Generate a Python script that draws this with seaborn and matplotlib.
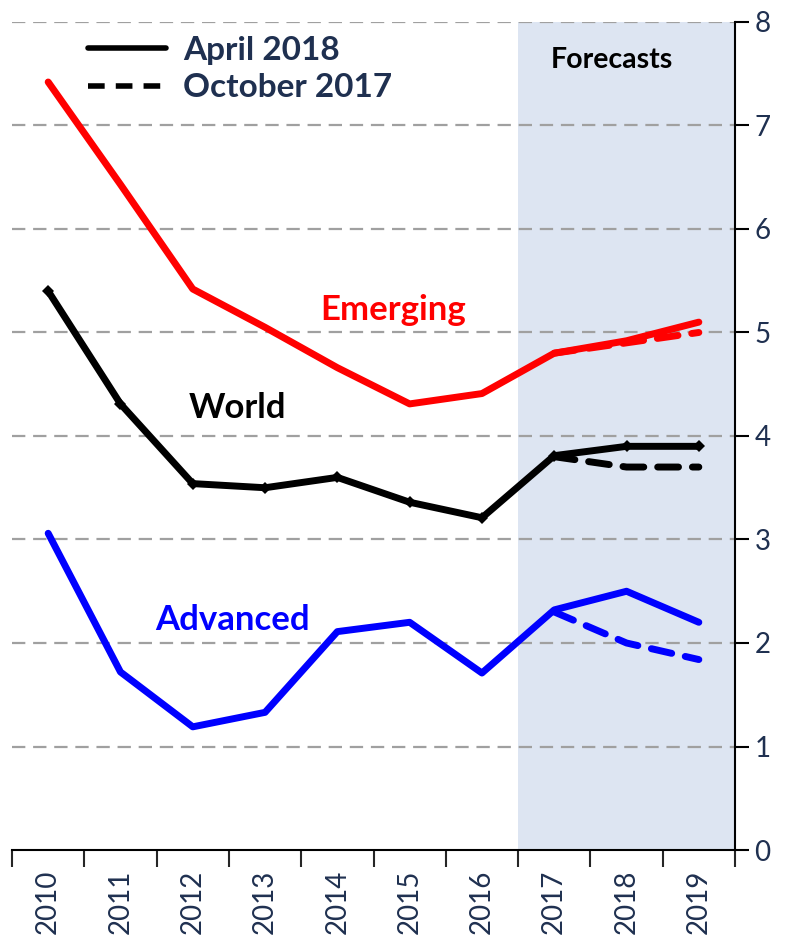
"""Growth forecasts: April 2018 vs October 2017 vintages."""

import matplotlib.pyplot as plt
import pandas as pd
import seaborn as sns
from matplotlib.lines import Line2D
from matplotlib.ticker import FixedLocator, NullFormatter

# Data.
years = [2010, 2011, 2012, 2013, 2014, 2015, 2016, 2017, 2018, 2019]
emerging_apr = [7.42, 6.43, 5.42, 5.05, 4.66, 4.31, 4.41, 4.80, 4.92, 5.10]
world_apr = [5.40, 4.31, 3.54, 3.50, 3.60, 3.36, 3.21, 3.81, 3.90, 3.90]
advanced_apr = [3.06, 1.72, 1.19, 1.33, 2.11, 2.20, 1.71, 2.32, 2.50, 2.20]

oct_years = [2017, 2018, 2019]
emerging_oct = [4.80, 4.90, 5.00]
world_oct = [3.80, 3.70, 3.70]
advanced_oct = [2.30, 2.00, 1.84]

y_ticks = [0, 1, 2, 3, 4, 5, 6, 7, 8]

NAVY = "#1F3050"
COLORS = {"Emerging": "#FF0000", "World": "#000000", "Advanced": "#0000FF"}

apr = pd.DataFrame({
    "year": years * 3,
    "value": emerging_apr + world_apr + advanced_apr,
    "group": ["Emerging"] * 10 + ["World"] * 10 + ["Advanced"] * 10,
})
octo = pd.DataFrame({
    "year": oct_years * 3,
    "value": emerging_oct + world_oct + advanced_oct,
    "group": ["Emerging"] * 3 + ["World"] * 3 + ["Advanced"] * 3,
})

sns.set_style("white")
plt.rcParams["font.family"] = ["Lato", "DejaVu Sans"]

fig = plt.figure(figsize=(7.86, 9.35), dpi=100)
ax = fig.add_axes([0.0153, 0.0909, 0.9198, 0.8856])

# Forecast shading.
ax.axvspan(2016.5, 2019.5, ymin=0, ymax=1, color="#DDE5F2", zorder=0, lw=0)

# Gridlines.
for v in y_ticks[1:]:
    ax.axhline(v, color="#A0A0A0", lw=1.6, ls=(0, (6, 3.5)), zorder=1)

# October 2017 (dashed).
for name, sub in octo.groupby("group"):
    sns.lineplot(data=sub, x="year", y="value", ax=ax, color=COLORS[name],
                 lw=5, linestyle=(0, (3, 2)), zorder=3, legend=False,
                 dash_capstyle="round")

# April 2018 (solid).
for name, sub in apr.groupby("group"):
    sns.lineplot(data=sub, x="year", y="value", ax=ax, color=COLORS[name],
                 lw=5, zorder=4, legend=False, solid_capstyle="round",
                 marker="D" if name == "World" else None, markersize=6,
                 markeredgewidth=0)

ax.set_xlim(2009.5, 2019.5)
ax.set_ylim(0, 8)

# Axis styling: y axis on the right, ticks between categories.
ax.yaxis.tick_right()
ax.set_yticks(y_ticks)
ax.tick_params(axis="y", direction="out", length=10, width=1.5, colors="black",
               labelcolor=NAVY, labelsize=20, pad=4, right=True, left=False)
ax.xaxis.set_major_locator(FixedLocator([y + 0.5 for y in [2009] + years]))
ax.xaxis.set_major_formatter(NullFormatter())
ax.xaxis.set_minor_locator(FixedLocator(years))
ax.set_xticklabels([str(y) for y in years], minor=True, rotation=90)
ax.tick_params(axis="x", which="major", direction="out", length=12, width=1.5,
               bottom=True)
ax.tick_params(axis="x", which="minor", length=0, labelcolor=NAVY,
               labelsize=20, pad=14)
for s in ["top", "left"]:
    ax.spines[s].set_visible(False)
for s in ["bottom", "right"]:
    ax.spines[s].set_color("black")
    ax.spines[s].set_linewidth(1.5)
ax.set_xlabel("")
ax.set_ylabel("")

# Series labels.
ax.text(2013.77, 5.22, "Emerging", color="#FF0000", fontsize=25, fontweight="bold",
        ha="left", va="center")
ax.text(2011.95, 4.27, "World", color="black", fontsize=25, fontweight="bold",
        ha="left", va="center")
ax.text(2011.48, 2.22, "Advanced", color="#0000FF", fontsize=25, fontweight="bold",
        ha="left", va="center")
ax.text(2017.8, 7.63, "Forecasts", color="black", fontsize=20.5,
        fontweight="bold", ha="center", va="center")

# Legend.
handles = [
    Line2D([0], [0], color="black", lw=4),
    Line2D([0], [0], color="black", lw=4, linestyle=(0, (3, 2))),
]
leg = ax.legend(handles, ["April 2018", "October 2017"], loc="upper left",
                bbox_to_anchor=(0.105, 0.983), frameon=False, borderpad=0,
                borderaxespad=0, handlelength=2.35, handletextpad=0.5,
                labelspacing=0.25, prop={"size": 24, "weight": "bold"})
for t in leg.get_texts():
    t.set_color(NAVY)

plt.savefig("out.png", dpi=100)
